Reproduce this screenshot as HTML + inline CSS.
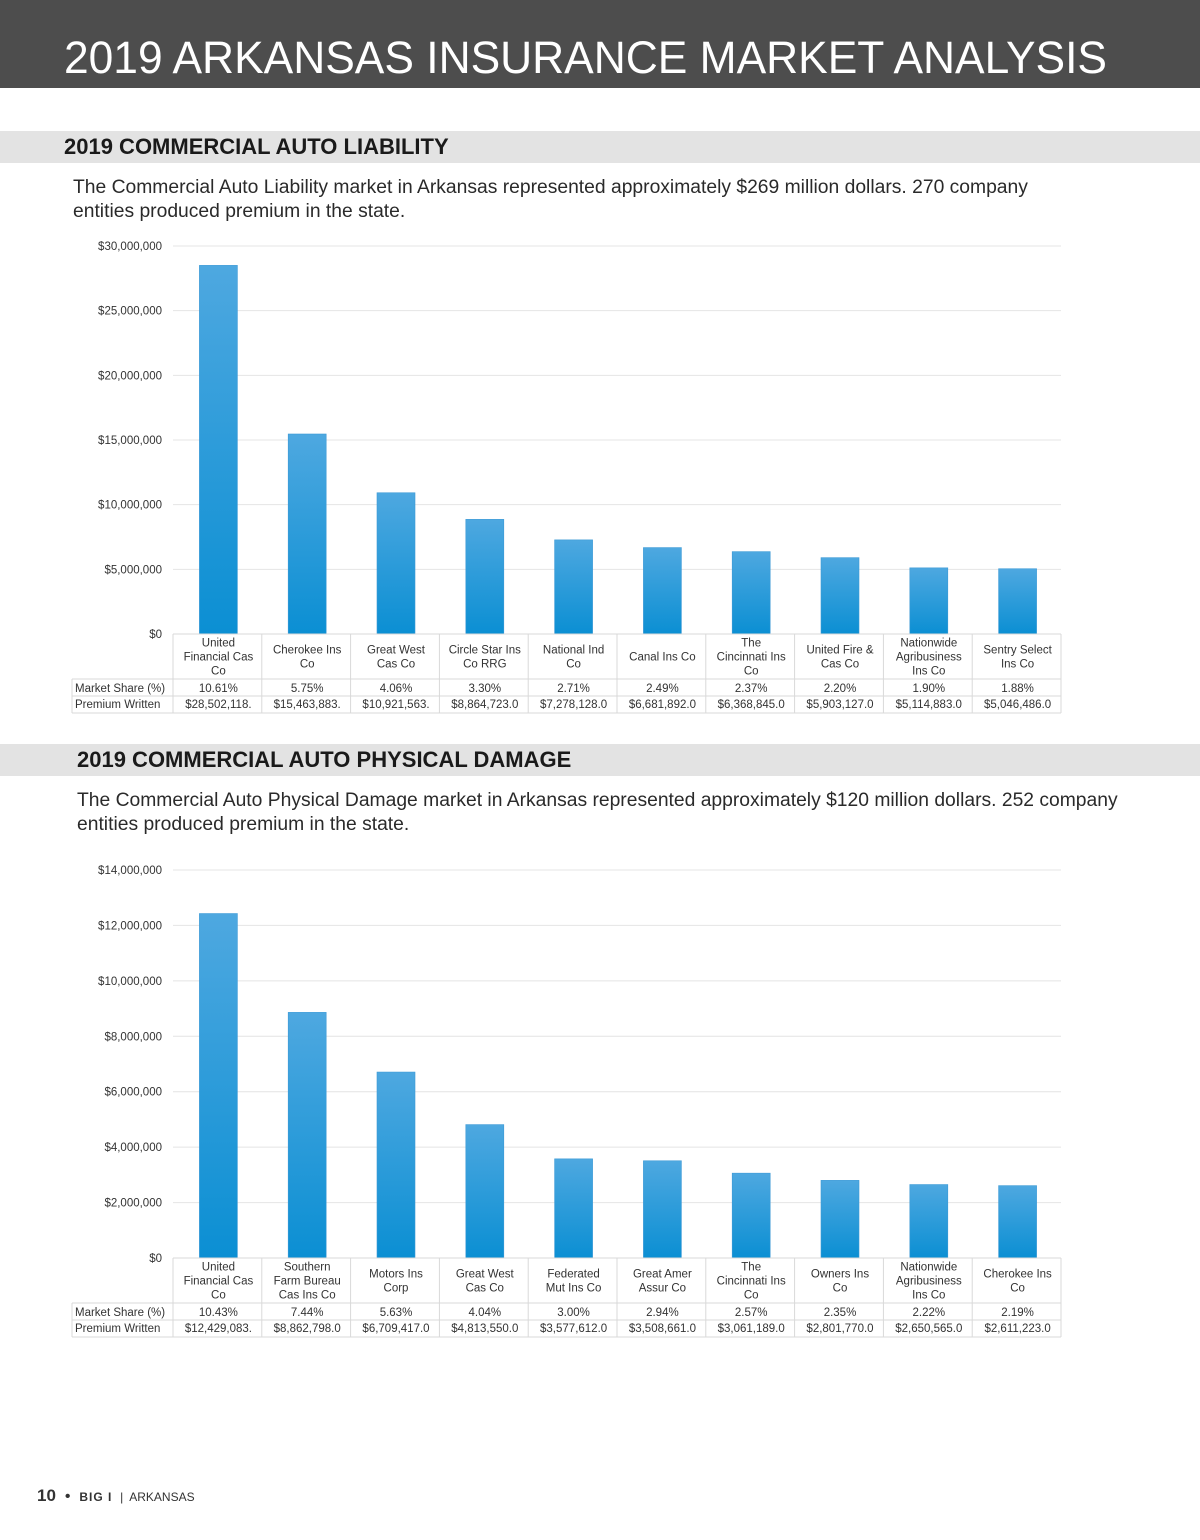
<!DOCTYPE html>
<html><head><meta charset="utf-8"><style>
body{margin:0;width:1200px;height:1540px;background:#fff;position:relative;font-family:"Liberation Sans",sans-serif;overflow:hidden}
.hdr{position:absolute;left:0;top:0;width:1200px;height:88px;background:#4d4d4d}
.band{position:absolute;left:0;width:1200px;height:32px;background:#e3e3e3}
.band h2{margin:0;position:absolute;top:3px;font-size:22px;font-weight:bold;color:#1a1a1a;line-height:26px;white-space:nowrap}
.desc{position:absolute;font-size:19.3px;color:#2a2a2a;line-height:24px}
#chart{position:absolute;left:0;top:0}
.foot{position:absolute;left:37px;top:1486px;font-size:16px;color:#333}
</style></head><body>
<div class="hdr">
<svg width="1200" height="88" style="position:absolute;left:0;top:0"><text x="64" y="73" font-size="45" fill="#fff" font-family="Liberation Sans, sans-serif" textLength="1043" lengthAdjust="spacingAndGlyphs">2019 ARKANSAS INSURANCE MARKET ANALYSIS</text></svg></div>
<div class="band" style="top:131px"><h2 style="left:64px">2019 COMMERCIAL AUTO LIABILITY</h2></div>
<div class="desc" style="left:73px;top:176px;width:985px">The Commercial Auto Liability market in Arkansas represented approximately $269 million dollars. 270 company entities produced premium in the state.</div>
<div class="band" style="top:744px"><h2 style="left:77px">2019 COMMERCIAL AUTO PHYSICAL DAMAGE</h2></div>
<div class="desc" style="left:77px;top:789px;width:1065px">The Commercial Auto Physical Damage market in Arkansas represented approximately $120 million dollars. 252 company entities produced premium in the state.</div>
<div class="foot"><b style="font-size:17px">10</b> &nbsp;•&nbsp; <b style="font-size:12px;letter-spacing:1px">BIG I</b> <span style="font-size:12px">&nbsp;|&nbsp; ARKANSAS</span></div>
<svg id="chart" width="1200" height="1540">
<defs><linearGradient id="g" x1="0" y1="0" x2="0" y2="1"><stop offset="0" stop-color="#4ea8e0"/><stop offset="1" stop-color="#0b8fd3"/></linearGradient></defs>
</svg>
<script>
const cats1=[["United","Financial Cas","Co"],["Cherokee Ins","Co"],["Great West","Cas Co"],["Circle Star Ins","Co RRG"],["National Ind","Co"],["Canal Ins Co"],["The","Cincinnati Ins","Co"],["United Fire &","Cas Co"],["Nationwide","Agribusiness","Ins Co"],["Sentry Select","Ins Co"]];
const vals1=[28502118,15463883,10921563,8864723,7278128,6681892,6368845,5903127,5114883,5046486];
const share1=["10.61%","5.75%","4.06%","3.30%","2.71%","2.49%","2.37%","2.20%","1.90%","1.88%"];
const prem1=["$28,502,118.","$15,463,883.","$10,921,563.","$8,864,723.0","$7,278,128.0","$6,681,892.0","$6,368,845.0","$5,903,127.0","$5,114,883.0","$5,046,486.0"];
const ticks1=[0,5000000,10000000,15000000,20000000,25000000,30000000];
const cats2=[["United","Financial Cas","Co"],["Southern","Farm Bureau","Cas Ins Co"],["Motors Ins","Corp"],["Great West","Cas Co"],["Federated","Mut Ins Co"],["Great Amer","Assur Co"],["The","Cincinnati Ins","Co"],["Owners Ins","Co"],["Nationwide","Agribusiness","Ins Co"],["Cherokee Ins","Co"]];
const vals2=[12429083,8862798,6709417,4813550,3577612,3508661,3061189,2801770,2650565,2611223];
const share2=["10.43%","7.44%","5.63%","4.04%","3.00%","2.94%","2.57%","2.35%","2.22%","2.19%"];
const prem2=["$12,429,083.","$8,862,798.0","$6,709,417.0","$4,813,550.0","$3,577,612.0","$3,508,661.0","$3,061,189.0","$2,801,770.0","$2,650,565.0","$2,611,223.0"];
const ticks2=[0,2000000,4000000,6000000,8000000,10000000,12000000,14000000];
const svg=document.getElementById('chart'),NS="http://www.w3.org/2000/svg";
function mk(t,a,p){const e=document.createElementNS(NS,t);for(const k in a)e.setAttribute(k,a[k]);(p||svg).appendChild(e);return e;}
function txt(x,y,s,anchor,name){const e=mk('text',{x:x,y:y,'font-size':11.5,fill:'#333','text-anchor':anchor,'font-family':'Liberation Sans, sans-serif'});e.textContent=s;


return e;}
function fmt(v){return '$'+v.toLocaleString('en-US');}
function draw(id,cats,vals,share,prem,ticks,top,bot){
 const L=173,R=1061,n=cats.length,cw=(R-L)/n,max=ticks[ticks.length-1];
 const y=v=>bot-(v/max)*(bot-top);
 const g=mk('g',{});
 
 
 ticks.forEach(t=>{mk('line',{x1:L,x2:R,y1:y(t),y2:y(t),stroke:'#e4e4e4','stroke-width':1},g);
  txt(162,y(t)+4,fmt(t),'end','y-tick-label');});
 vals.forEach((v,i)=>{const cx=L+cw*(i+.5)+1;
  const r=mk('rect',{x:cx-19,y:y(v),width:38,height:bot-y(v),fill:'url(#g)',stroke:'#3d9ad6','stroke-width':0.6},g);
  
  });
 const r1=bot+45,r2=r1+17,r3=r2+17;
 [[L,bot,R,bot],[72,r1,R,r1],[72,r2,R,r2],[72,r3,R,r3]].forEach(a=>mk('line',{x1:a[0],y1:a[1],x2:a[2],y2:a[3],stroke:'#d9d9d9'},g));
 mk('line',{x1:72,y1:r1,x2:72,y2:r3,stroke:'#d9d9d9'},g);
 for(let i=0;i<=n;i++)mk('line',{x1:L+cw*i,y1:bot,x2:L+cw*i,y2:r3,stroke:'#d9d9d9'},g);
 txt(75,r1+13,'Market Share (%)','start','market-share-row-label');
 txt(75,r2+12,'Premium Written','start','premium-row-label');
 cats.forEach((c,i)=>{const cx=L+cw*(i+.5)+1;const lh=14;const y0=bot+(45-c.length*lh)/2+11;
  c.forEach((s,j)=>txt(cx,y0+j*lh,s,'middle','category-label'));
  txt(cx,r1+13,share[i],'middle','market-share-value');
  txt(cx,r2+12,prem[i],'middle','premium-value');});
}
draw('liability-chart',cats1,vals1,share1,prem1,ticks1,246,634);
draw('damage-chart',cats2,vals2,share2,prem2,ticks2,870,1258);
</script>
</body></html>
